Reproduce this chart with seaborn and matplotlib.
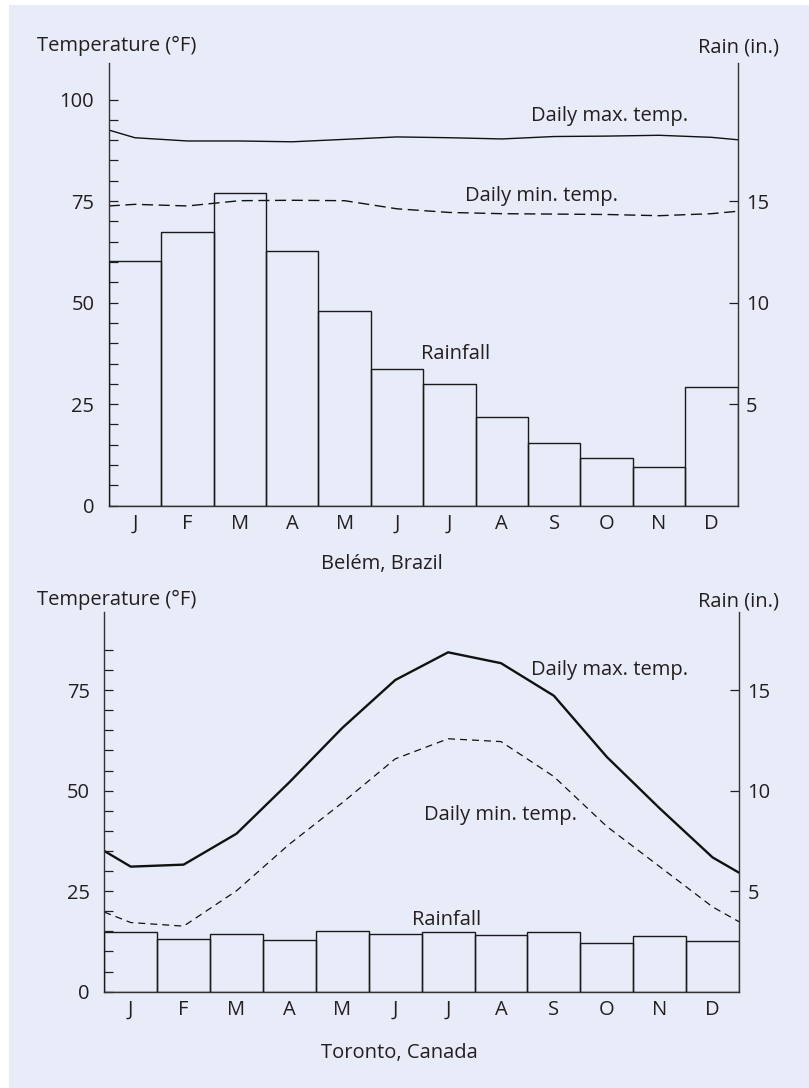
import numpy as np
import matplotlib
matplotlib.use("Agg")
import matplotlib.pyplot as plt
from matplotlib.patches import Rectangle
import seaborn as sns

# month tick labels
months = ["J", "F", "M", "A", "M", "J", "J", "A", "S", "O", "N", "D"]

# Belém, Brazil (temps in °F at month centres, rain in inches)
belem_max = [90.6, 89.8, 89.8, 89.6, 90.2, 90.8, 90.6, 90.3, 90.9, 91.0, 91.2, 90.7]
belem_max_ends = (92.5, 90.1)   # value at start / end of year
belem_min = [74.2, 73.8, 75.1, 75.2, 75.1, 73.1, 72.2, 71.9, 71.8, 71.7, 71.4, 71.9]
belem_min_ends = (73.8, 72.5)
belem_rain = [12.05, 13.5, 15.4, 12.56, 9.6, 6.73, 6.01, 4.37, 3.1, 2.36, 1.9, 5.85]

# Toronto, Canada
toronto_max = [31.1, 31.6, 39.3, 52.1, 65.6, 77.5, 84.4, 81.7, 73.6, 58.4, 45.6, 33.4]
toronto_max_ends = (35.0, 29.6)
toronto_min = [17.2, 16.3, 25.1, 36.7, 47.0, 57.9, 62.9, 62.2, 53.5, 41.1, 31.1, 21.1]
toronto_min_ends = (19.8, 17.4)
toronto_rain = [2.96, 2.6, 2.86, 2.57, 3.0, 2.89, 2.96, 2.84, 2.96, 2.4, 2.79, 2.5]

W, H = 809, 1088
BG = "#e8ecf8"
INK = "#231f20"
FS = 14.5

sns.set_style("white")
plt.rcParams["font.family"] = ["Open Sans", "DejaVu Sans"]
plt.rcParams["text.color"] = INK
plt.rcParams["xtick.color"] = INK
plt.rcParams["ytick.color"] = INK


def px_axes(fig, left, top, right, bottom):
    return fig.add_axes([left / W, 1 - bottom / H, (right - left) / W, (bottom - top) / H])


def draw_panel(ax, tmax, tmax_ends, tmin, tmin_ends, rain, ytop, max_lw, min_dash, min_lw,
               labels):
    ax.set_facecolor("none")
    idx = np.arange(len(months))
    xs = np.r_[-0.5, idx, len(months) - 0.5]

    sns.lineplot(x=xs, y=np.r_[tmax_ends[0], tmax, tmax_ends[1]], ax=ax, color="#111111",
                 lw=max_lw, sort=False)
    sns.lineplot(x=xs, y=np.r_[tmin_ends[0], tmin, tmin_ends[1]], ax=ax, color="#111111",
                 lw=min_lw, linestyle=(0, min_dash), sort=False)

    ax2 = ax.twinx()
    ax2.set_facecolor("none")
    sns.barplot(x=idx, y=rain, ax=ax2, fill=False, color="#1a1a1a", saturation=1,
                width=1.0, linewidth=1.0, errorbar=None)

    ax.set_xlim(-0.5, len(months) - 0.5)
    ax.set_ylim(0, ytop)
    ax2.set_ylim(0, ytop / 5)

    ax.set_xticks(idx)
    ax.set_xticklabels(months)
    ax.tick_params(axis="x", length=0, pad=6, labelsize=FS)

    ax.set_yticks([t for t in range(0, 101, 25) if t <= ytop])
    ax.set_yticks([t for t in range(5, int(ytop) - 4, 5) if t % 25], minor=True)
    ax.tick_params(axis="y", which="both", direction="in", length=6.5, width=0.9,
                   pad=10.4, labelsize=FS, left=True)
    ax2.set_yticks([5, 10, 15])
    ax2.tick_params(axis="y", direction="in", length=6.5, width=0.9, pad=6,
                    labelsize=FS, right=True)
    ax.set_xlabel("")
    ax.set_ylabel("")
    ax2.set_xlabel("")
    ax2.set_ylabel("")

    for name, sp in ax.spines.items():
        sp.set_visible(name in ("left", "bottom"))
        sp.set_color("#333333")
        sp.set_linewidth(1.0)
    for name, sp in ax2.spines.items():
        sp.set_visible(name == "right")
        sp.set_color("#333333")
        sp.set_linewidth(1.0)

    for x, y, s in labels:
        ax.text(x, y, s, fontsize=FS, ha="left", va="baseline")


fig = plt.figure(figsize=(W / 100, H / 100), dpi=100)
fig.patch.set_facecolor("white")
fig.add_artist(Rectangle((9 / W, 0), 1 - 9 / W, 1 - 5 / H, transform=fig.transFigure,
                         facecolor=BG, edgecolor="none", zorder=-10))

ax_top = px_axes(fig, 108.7, 63, 737.7, 505.7)
draw_panel(ax_top, belem_max, belem_max_ends, belem_min, belem_min_ends, belem_rain,
           109, 1.0, (8, 4), 1.0,
           [(7.56, 94.6, "Daily max. temp."), (6.29, 74.9, "Daily min. temp."),
            (5.45, 36.1, "Rainfall")])

ax_bot = px_axes(fig, 104.3, 611.7, 739, 991.7)
draw_panel(ax_bot, toronto_max, toronto_max_ends, toronto_min, toronto_min_ends,
           toronto_rain, 94.5, 1.7, (5.6, 4), 0.9,
           [(7.57, 78.8, "Daily max. temp."), (5.54, 42.7, "Daily min. temp."),
            (5.31, 16.6, "Rainfall")])


def fig_text(x, y, s, ha="left"):
    fig.text(x / W, 1 - y / H, s, fontsize=FS, ha=ha, va="baseline")


fig_text(196, 51, "Temperature (°F)", ha="right")
fig_text(738, 52, "Rain (in.)", ha="center")
fig_text(321, 569, "Belém, Brazil")
fig_text(196, 605, "Temperature (°F)", ha="right")
fig_text(738, 606, "Rain (in.)", ha="center")
fig_text(321, 1058, "Toronto, Canada")

fig.savefig("out.png", dpi=100, facecolor=fig.get_facecolor())
